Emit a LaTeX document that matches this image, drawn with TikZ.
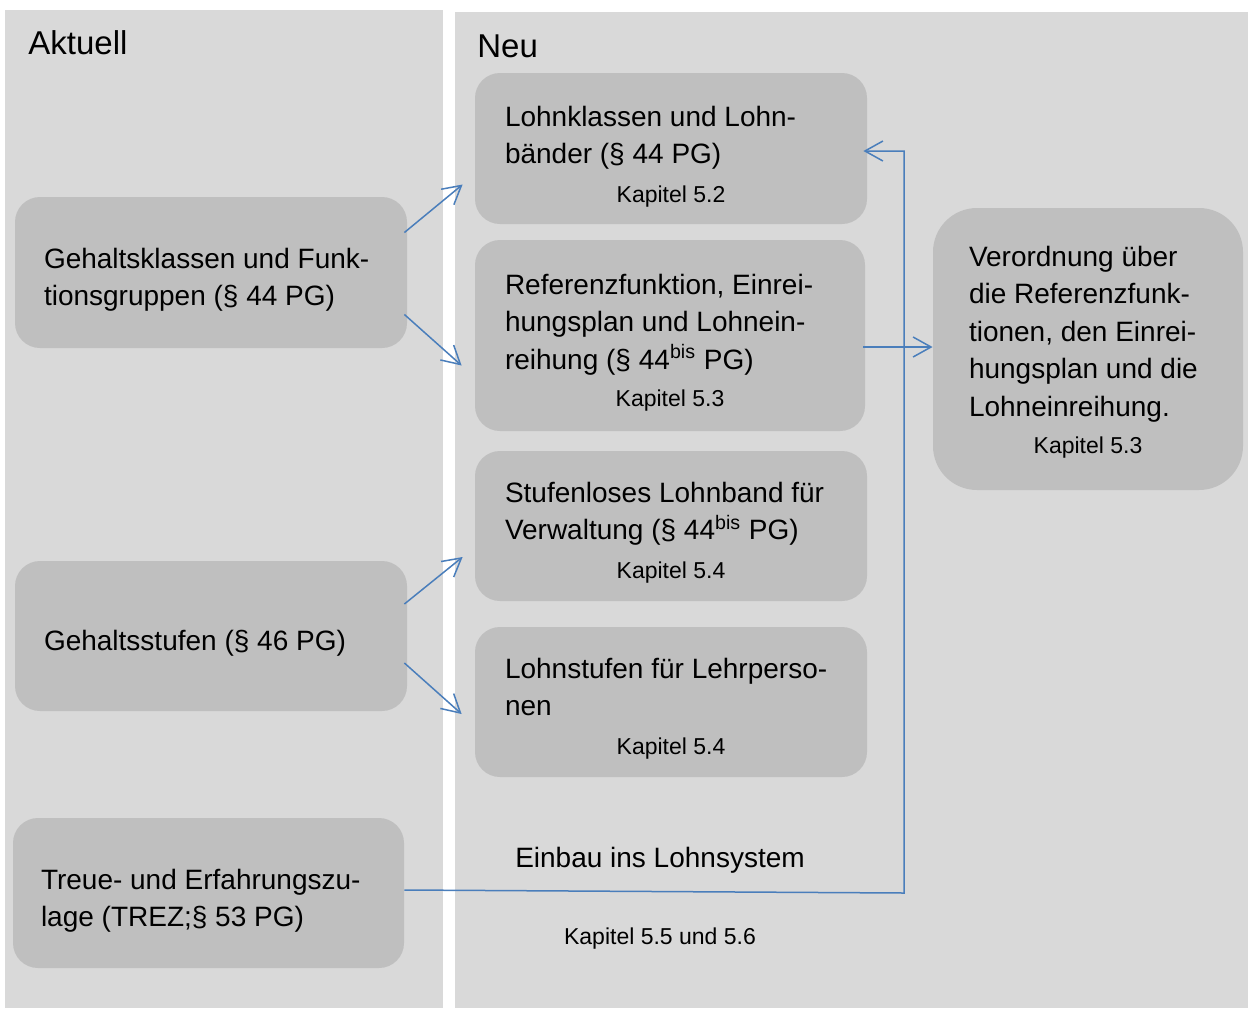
\documentclass[tikz,border=0pt]{standalone}
\usepackage{fontspec}
\setmainfont{Liberation Sans}
\usetikzlibrary{positioning,fit,calc}
\usetikzlibrary{arrows.meta}

\definecolor{panelgray}{HTML}{D9D9D9}
\definecolor{boxgray}{HTML}{BFBFBF}
\definecolor{linkblue}{HTML}{4A7EBB}

\tikzset{
  box/.style={fill=boxgray, rounded corners=12.5pt, inner sep=0pt},
  txt/.style={font=\fontsize{14}{18.75}\selectfont, align=left, inner sep=0pt},
  kap/.style={font=\fontsize{11.5}{14}\selectfont, inner sep=0pt, anchor=base},
  title/.style={font=\fontsize{16.5}{20}\selectfont, inner sep=0pt, anchor=base west},
  link/.style={draw=linkblue, line width=0.75pt,
    -{Straight Barb[length=9pt,width=10pt,line width=0.75pt]}}
}

\begin{document}
\begin{tikzpicture}[x=0.5pt,y=-0.5pt]
   \useasboundingbox (0,0) rectangle (1248,1008);

   % panels
   \fill[panelgray] (5,10) rectangle (443,1008);
   \fill[panelgray] (455,12) rectangle (1248,1008);
   \node[title] (aktuell) at (28,54) {Aktuell};
   \node[title] (neu) at (477,57) {Neu};

   % aktuell
   \node[box, fit={(15,197)(407,348)}] (gk) {};
   \node[box, fit={(15,561)(407,711)}] (gs) {};
   \node[box, fit={(13,818)(404,968)}] (tr) {};

   \node[txt, below right=25.5pt and 14.5pt of gk.north west] (gk-t)
      {Gehaltsklassen und Funk-\\tionsgruppen (§ 44 PG)};
   \node[txt, below right=34.5pt and 14.5pt of gs.north west] (gs-t)
      {Gehaltsstufen (§ 46 PG)};
   \node[txt, below right=25.5pt and 14pt of tr.north west] (tr-t)
      {Treue- und Erfahrungszu-\\lage (TREZ;§ 53 PG)};

   % neu
   \node[box, fit={(475,73)(867,224)}] (lk) {};
   \node[box, fit={(475,240)(865,431)}] (rf) {};
   \node[box, fit={(475,451)(867,601)}] (sl) {};
   \node[box, fit={(475,627)(867,777)}] (ls) {};
   \node[box, rounded corners=22pt, fit={(933,208)(1243,490)}] (vo) {};

   \node[txt, below right=16.5pt and 15pt of lk.north west] (lk-t)
      {Lohnklassen und Lohn-\\bänder (§ 44 PG)};
   \node[txt, below right=17pt and 15pt of rf.north west] (rf-t)
      {Referenzfunktion, Einrei-\\hungsplan und Lohnein-\\reihung (§ 44\textsuperscript{bis} PG)};
   \node[txt, below right=15.5pt and 15pt of sl.north west] (sl-t)
      {Stufenloses Lohnband für\\Verwaltung (§ 44\textsuperscript{bis} PG)};
   \node[txt, below right=15.5pt and 15pt of ls.north west] (ls-t)
      {Lohnstufen für Lehrperso-\\nen};
   \node[txt, below right=19pt and 18pt of vo.north west] (vo-t)
      {Verordnung über\\die Referenzfunk-\\tionen, den Einrei-\\hungsplan und die\\Lohneinreihung.};

   \node[kap] (lk-k) at ([yshift=11pt]lk.south) {Kapitel 5.2};
   \node[kap] (rf-k) at ([yshift=12.5pt]rf.south) {Kapitel 5.3};
   \node[kap] (sl-k) at ([yshift=11.5pt]sl.south) {Kapitel 5.4};
   \node[kap] (ls-k) at ([yshift=11.5pt]ls.south) {Kapitel 5.4};
   \node[kap] (vo-k) at ([yshift=18.5pt]vo.south) {Kapitel 5.3};

   \node[txt, anchor=base] (einbau) at (660,867) {Einbau ins Lohnsystem};
   \node[kap] (einbau-k) at (660,944) {Kapitel 5.5 und 5.6};

   % connectors
   \draw[link] ([xshift=-1.5pt,yshift=20pt]gk.east) -- ([xshift=-6pt,yshift=-18pt]lk.west);
   \draw[link] ([xshift=-1.5pt,yshift=-21pt]gk.east) -- ([xshift=-6.5pt,yshift=-15pt]rf.west);
   \draw[link] ([xshift=-1.5pt,yshift=16pt]gs.east) -- ([xshift=-6pt,yshift=-15.5pt]sl.west);
   \draw[link] ([xshift=-1.5pt,yshift=-13.5pt]gs.east) -- ([xshift=-6.5pt,yshift=-6pt]ls.west);

   \coordinate (rfout) at ([xshift=-1pt,yshift=-5.75pt]rf.east);
   \draw[link] (rfout) -- (rfout -| vo.west);

   \coordinate (bend) at (904,893);
   \coordinate (lkin) at ([xshift=-2pt,yshift=-1.25pt]lk.east);
   \draw[link] ([yshift=1.5pt]tr.east) -- (bend) |- (lkin);
\end{tikzpicture}
\end{document}
